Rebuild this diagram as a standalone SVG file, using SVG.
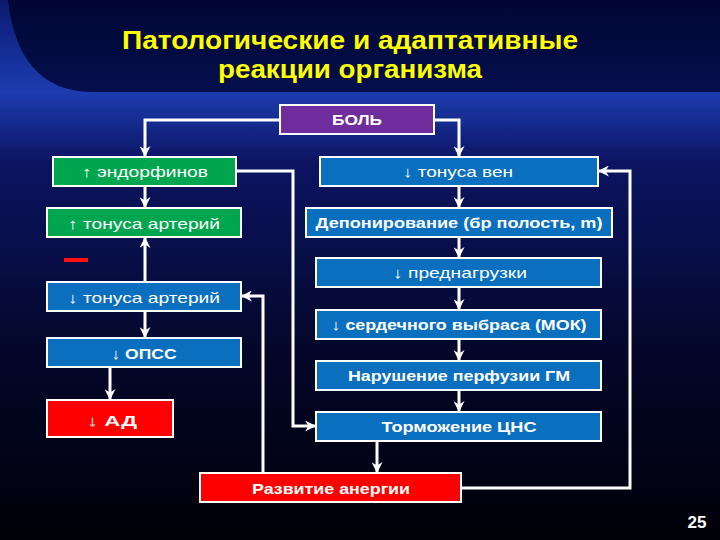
<svg xmlns="http://www.w3.org/2000/svg" width="720" height="540" viewBox="0 0 720 540">
<defs>
<linearGradient id="bg" x1="0" y1="0" x2="0" y2="1">
<stop offset="0" stop-color="#0a1a70"/>
<stop offset="0.17" stop-color="#1c3cb0"/>
<stop offset="0.3" stop-color="#0c1462"/>
<stop offset="0.65" stop-color="#04072a"/>
<stop offset="1" stop-color="#000008"/>
</linearGradient>
<linearGradient id="panel" x1="0" y1="0" x2="0" y2="1">
<stop offset="0" stop-color="#010634"/>
<stop offset="1" stop-color="#050f4c"/>
</linearGradient>
<marker id="ah" viewBox="0 0 10 10" refX="9" refY="5" markerWidth="11" markerHeight="11" markerUnits="userSpaceOnUse" orient="auto">
<path d="M0,0 L10,5 L0,10 L3,5 Z" fill="#ffffff"/>
</marker>
<style>
.box{stroke:#ffffff;stroke-width:2}
.blue{fill:#0a6fbf}
.green{fill:#00a64f}
.red{fill:#ff0000}
.purple{fill:#6e2c9c}
.t{font-family:"Liberation Sans",Arial,sans-serif;fill:#ffffff;font-size:15px;text-anchor:middle}
.b{font-weight:bold}
.con{fill:none;stroke:#ffffff;stroke-width:3;marker-end:url(#ah)}
.title{font-family:"Liberation Sans",Arial,sans-serif;fill:#ffff00;font-weight:bold;font-size:25px;text-anchor:middle}
</style>
</defs>
<rect width="720" height="540" fill="url(#bg)"/>
<path d="M8,0 H720 V92 H90 Q18,90 8,0 Z" fill="url(#panel)"/>
<text class="title" x="350" y="49" textLength="456" lengthAdjust="spacingAndGlyphs">Патологические и адаптативные</text>
<text class="title" x="350" y="78" textLength="264" lengthAdjust="spacingAndGlyphs">реакции организма</text>

<g id="connectors">
<path class="con" d="M280,120 H145 V156"/>
<path class="con" d="M434,120 H459 V156"/>
<path class="con" d="M145,186 V207"/>
<path class="con" d="M145,282 V238"/>
<path class="con" d="M236,171 H293 V426 H315"/>
<path class="con" d="M263,473 V296 H242"/>
<path class="con" d="M145,311 V337"/>
<path class="con" d="M110,367 V399"/>
<path class="con" d="M459,186 V207"/>
<path class="con" d="M459,237 V257"/>
<path class="con" d="M459,287 V309"/>
<path class="con" d="M459,339 V360"/>
<path class="con" d="M459,390 V411"/>
<path class="con" d="M377,441 V472"/>
<path class="con" d="M461,488 H630 V171 H599"/>
</g>

<g id="bol"><rect class="box purple" x="280" y="105" width="154" height="29"/><text class="t b" x="357" y="125" textLength="50" lengthAdjust="spacingAndGlyphs">БОЛЬ</text></g>
<g id="endorphins"><rect class="box green" x="53" y="157" width="183" height="29"/><text class="t" x="145" y="177" textLength="126" lengthAdjust="spacingAndGlyphs">↑ эндорфинов</text></g>
<g id="art-up"><rect class="box green" x="47" y="208" width="194" height="29"/><text class="t" x="144" y="229" font-size="17" textLength="152" lengthAdjust="spacingAndGlyphs">↑ тонуса артерий</text></g>
<rect id="minus" x="64" y="258" width="24" height="4" fill="#ff1010"/>
<g id="art-down"><rect class="box blue" x="47" y="282" width="194" height="29"/><text class="t" x="144" y="303" font-size="17" textLength="152" lengthAdjust="spacingAndGlyphs">↓ тонуса артерий</text></g>
<g id="opss"><rect class="box blue" x="47" y="338" width="194" height="29"/><text class="t b" x="144" y="359" font-size="17" textLength="65" lengthAdjust="spacingAndGlyphs">↓ ОПСС</text></g>
<g id="ad"><rect class="box red" x="47" y="400" width="126" height="37"/><text class="t b" x="112" y="426" font-size="22" textLength="50" lengthAdjust="spacingAndGlyphs">↓ АД</text></g>
<g id="veins"><rect class="box blue" x="320" y="157" width="278" height="29"/><text class="t" x="458" y="177" textLength="110" lengthAdjust="spacingAndGlyphs">↓ тонуса вен</text></g>
<g id="depo"><rect class="box blue" x="306" y="208" width="306" height="29"/><text class="t b" x="459" y="228" textLength="287" lengthAdjust="spacingAndGlyphs">Депонирование (бр полость, m)</text></g>
<g id="preload"><rect class="box blue" x="316" y="258" width="285" height="29"/><text class="t" x="460" y="278" textLength="134" lengthAdjust="spacingAndGlyphs">↓ преднагрузки</text></g>
<g id="mok"><rect class="box blue" x="316" y="310" width="285" height="29"/><text class="t b" x="459" y="330" textLength="255" lengthAdjust="spacingAndGlyphs">↓ сердечного выбраса (МОК)</text></g>
<g id="perf"><rect class="box blue" x="316" y="361" width="285" height="29"/><text class="t b" x="459" y="381" textLength="222" lengthAdjust="spacingAndGlyphs">Нарушение перфузии ГМ</text></g>
<g id="cns"><rect class="box blue" x="316" y="412" width="285" height="29"/><text class="t b" x="459" y="432" textLength="155" lengthAdjust="spacingAndGlyphs">Торможение ЦНС</text></g>
<g id="anergy"><rect class="box red" x="200" y="473" width="261" height="29"/><text class="t b" x="331" y="494" textLength="158" lengthAdjust="spacingAndGlyphs">Развитие анергии</text></g>
<text x="697" y="528" font-family="Liberation Sans, Arial, sans-serif" font-weight="bold" font-size="17" fill="#ffffff" text-anchor="middle">25</text>
</svg>
